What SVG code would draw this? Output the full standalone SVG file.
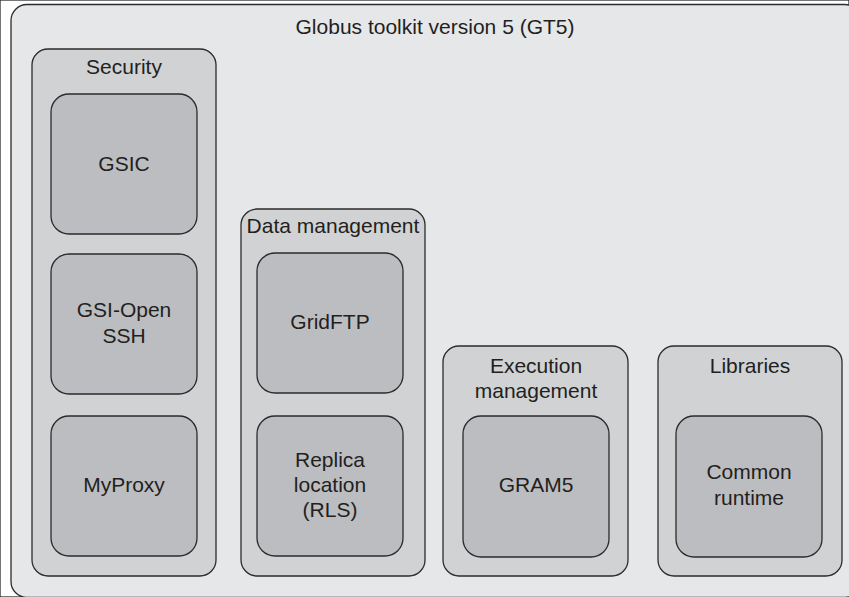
<svg xmlns="http://www.w3.org/2000/svg" width="849" height="597" viewBox="0 0 849 597">
<style>
rect{stroke:#2b2b2b;stroke-width:1.3}
.outer{fill:#e6e7e8}
.grp{fill:#d1d2d4}
.item{fill:#bcbdc0}
text{font-family:"Liberation Sans",Arial,sans-serif;font-size:21px;fill:#231f20;text-anchor:middle}
</style>
<rect width="849" height="597" fill="#ffffff" stroke="none"/>
<g id="gt5">
<rect class="outer" x="11" y="4.5" width="850" height="593" rx="16"/>
<text x="435" y="34">Globus toolkit version 5 (GT5)</text>
</g>
<g id="security">
<rect class="grp" x="32" y="49" width="184" height="527" rx="16"/>
<text x="124" y="74">Security</text>
</g>
<g id="gsic">
<rect class="item" x="51" y="94" width="146" height="140" rx="18"/>
<text x="124" y="171">GSIC</text>
</g>
<g id="gsi-openssh">
<rect class="item" x="51" y="254" width="146" height="140" rx="18"/>
<text x="124" y="317">GSI-Open</text>
<text x="124" y="343">SSH</text>
</g>
<g id="myproxy">
<rect class="item" x="51" y="416" width="146" height="140" rx="18"/>
<text x="124" y="492">MyProxy</text>
</g>
<g id="data">
<rect class="grp" x="241" y="209" width="184" height="367" rx="16"/>
<text x="333" y="233">Data management</text>
</g>
<g id="gridftp">
<rect class="item" x="257" y="253" width="146" height="140" rx="18"/>
<text x="330" y="329">GridFTP</text>
</g>
<g id="rls">
<rect class="item" x="257" y="416" width="146" height="140" rx="18"/>
<text x="330" y="467">Replica</text>
<text x="330" y="492">location</text>
<text x="330" y="517">(RLS)</text>
</g>
<g id="execution">
<rect class="grp" x="443" y="346" width="185" height="230" rx="16"/>
<text x="536" y="373">Execution</text>
<text x="536" y="398">management</text>
</g>
<g id="gram5">
<rect class="item" x="463" y="416" width="146" height="141" rx="18"/>
<text x="536" y="492">GRAM5</text>
</g>
<g id="libraries">
<rect class="grp" x="658" y="346" width="184" height="230" rx="16"/>
<text x="750" y="373">Libraries</text>
</g>
<g id="common">
<rect class="item" x="676" y="416" width="146" height="141" rx="18"/>
<text x="749" y="479">Common</text>
<text x="749" y="505">runtime</text>
</g>
<g id="connectors"/>
</svg>
